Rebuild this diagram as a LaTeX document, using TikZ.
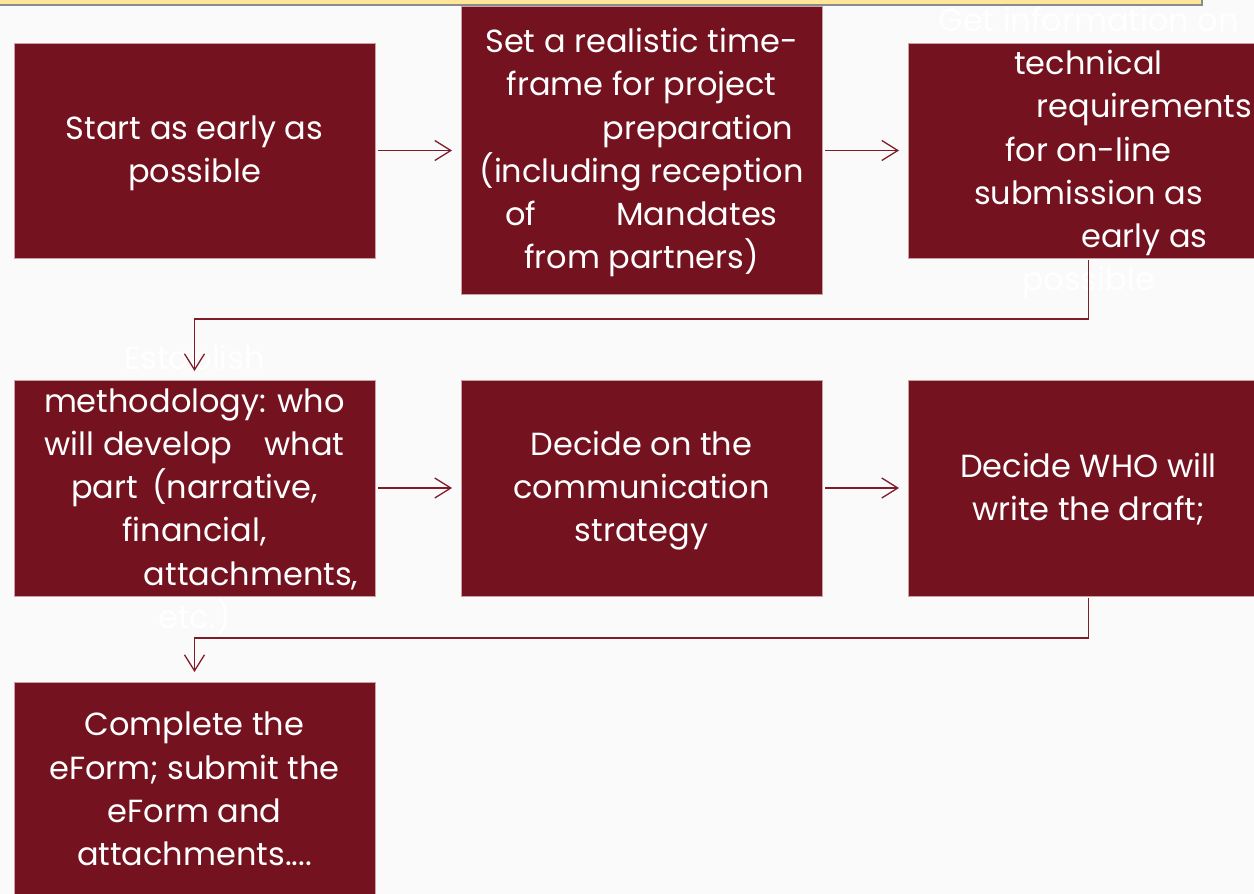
\documentclass[tikz,border=0pt]{standalone}
\usepackage{fontspec}
\setmainfont{Poppins}
\usetikzlibrary{arrows.meta}
\definecolor{boxred}{RGB}{116,19,31}
\definecolor{bgc}{RGB}{250,250,250}
\definecolor{stripc}{RGB}{255,230,153}
\definecolor{stripedge}{RGB}{140,140,140}
\definecolor{lnred}{RGB}{128,28,40}
\definecolor{boxedge}{RGB}{205,160,165}
\begin{document}
\begin{tikzpicture}[x=1pt,y=-1pt,
  stepbox/.style={draw=boxedge, line width=0.8pt, fill=boxred, anchor=north west,
    minimum width=361pt, minimum height=#1, inner sep=0pt, outer sep=0pt},
  stepbox/.default=215pt,
  txt/.style={text=white, align=center, inner sep=0pt, yshift=-2pt,
    font=\fontsize{32pt}{43.2pt}\selectfont},
  conn/.style={draw=lnred, line width=1.3pt,
    -{Straight Barb[length=16pt,width=20pt,line width=1.3pt]}},
]
\useasboundingbox (0,0) rectangle (1254,894);
\fill[bgc] (0,0) rectangle (1254,894);
% top strip
\fill[stripc] (0,-2) rectangle (1203,5);
\draw[stripedge, line width=1.5pt] (0,5) -- (1202,5) -- (1202,-2);

% boxes
\node[stepbox] (b1) at (14,43) {};
\node[stepbox=288pt] (b2) at (461,6) {};
\node[stepbox] (b3) at (908,43) {};
\node[stepbox=216pt] (b4) at (14,380) {};
\node[stepbox=216pt] (b5) at (461,380) {};
\node[stepbox=216pt] (b6) at (908,380) {};
\node[stepbox=216pt] (b7) at (14,682) {};

% texts
\node[txt] (t1) at (b1.center) {\strut Start as early as\\possible\strut};
\node[txt] (t2) at (b2.center) {\strut Set a realistic time-\\frame for project\\\hspace*{113pt}preparation\\(including reception\\of\hspace{80pt}Mandates\\from partners)\strut};
\node[txt] (t3) at (b3.center) {\strut Get information on\\technical\\\hspace*{112pt}requirements\\for on-line\\submission as\\\hspace*{112pt}early as\\possible\strut};
\node[txt] (t4) at (b4.center) {\strut Establish\\methodology: who\\will develop\hspace{32pt}what\\part\hspace{14pt}(narrative,\\financial,\\\hspace*{113pt}attachments,\\etc.)\strut};
\node[txt] (t5) at (b5.center) {\strut Decide on the\\communication\\strategy\strut};
\node[txt] (t6) at (b6.center) {\strut Decide WHO will\\write the draft;\strut};
\node[txt] (t7) at (b7.center) {\strut Complete the\\eForm; submit the\\eForm and\\attachments....\strut};

% connectors
\draw[conn, shorten <=3pt, shorten >=9pt] (b1.east) -- (b2.west |- b1.east);
\draw[conn, shorten <=3pt, shorten >=9pt] (b2.east |- b3.west) -- (b3.west);
\draw[conn, shorten <=3pt, shorten >=9pt] (b4.east) -- (b5.west);
\draw[conn, shorten <=3pt, shorten >=9pt] (b5.east) -- (b6.west);
\draw[conn, shorten <=2pt, shorten >=9pt] (b3.south) -- ++(0,61) -| (b4.north);
\draw[conn, shorten <=2pt, shorten >=10pt] (b6.south) -- ++(0,42) -| (b7.north);
\end{tikzpicture}
\end{document}
